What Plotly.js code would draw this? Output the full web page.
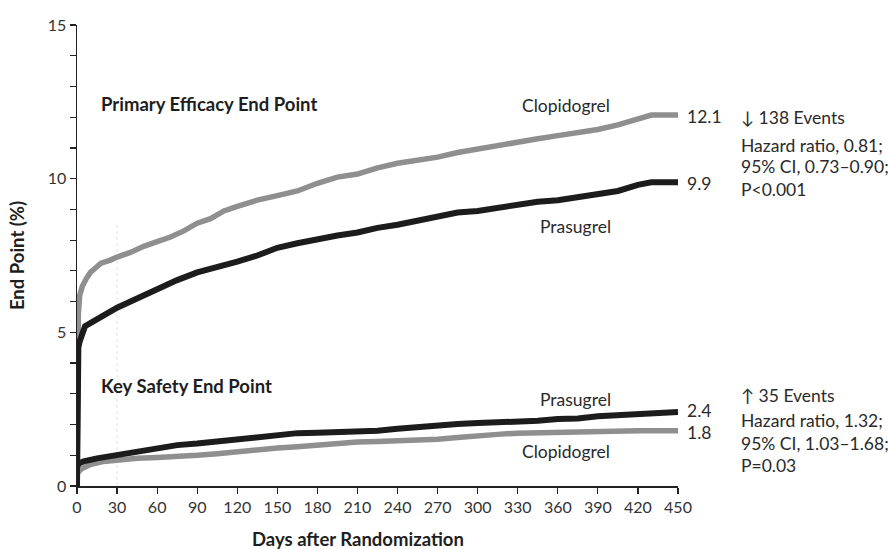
<!DOCTYPE html>
<html>
<head>
<meta charset="utf-8">
<script src="https://cdn.plot.ly/plotly-3.0.1.min.js"></script>
<style>html,body{margin:0;padding:0;background:#fff;}#chart{width:888px;height:549px;}</style>
</head>
<body>
<div id="chart"></div>
<script>
// Primary efficacy end point
const effClopDays = [0,0,1,2,4,7,10,14,18,25,30,40,50,60,70,80,90,100,110,120,135,150,165,180,195,210,225,240,255,270,285,300,315,330,345,360,375,390,405,420,430,450];
const effClopVals = [0,4.6,5.6,6.2,6.5,6.75,6.95,7.1,7.25,7.35,7.45,7.6,7.8,7.95,8.1,8.3,8.55,8.7,8.95,9.1,9.3,9.45,9.6,9.85,10.05,10.15,10.35,10.5,10.6,10.7,10.85,10.97,11.1,11.2,11.3,11.4,11.5,11.6,11.75,11.95,12.07,12.07];
const effPrasDays = [0,0,1,2,4,6,10,15,20,30,40,50,60,75,90,105,120,135,150,165,180,195,210,225,240,255,270,285,300,315,330,345,360,375,390,405,420,430,450];
const effPrasVals = [0,4.3,4.5,4.7,5.0,5.2,5.3,5.4,5.55,5.8,6.0,6.25,6.45,6.7,6.95,7.1,7.3,7.5,7.75,7.9,8.05,8.15,8.25,8.4,8.5,8.65,8.8,8.9,8.95,9.05,9.15,9.25,9.3,9.4,9.5,9.6,9.8,9.88,9.88];
// Key safety end point
const safPrasDays = [0,0,2,5,15,30,45,60,75,90,105,120,135,150,165,180,195,210,225,240,255,270,285,300,315,330,345,360,375,390,405,420,435,450];
const safPrasVals = [0,0.65,0.75,0.8,0.9,1.0,1.1,1.2,1.33,1.38,1.45,1.5,1.56,1.63,1.72,1.73,1.74,1.78,1.8,1.86,1.92,1.97,2.02,2.05,2.07,2.1,2.12,2.18,2.2,2.27,2.31,2.35,2.38,2.41];
const safClopDays = [0,0,3,10,20,30,45,60,75,90,105,120,135,150,165,180,195,210,225,240,255,270,285,300,315,330,345,360,375,390,420,450];
const safClopVals = [0,0.4,0.55,0.7,0.8,0.85,0.9,0.93,0.95,1.0,1.05,1.12,1.2,1.24,1.28,1.33,1.4,1.43,1.45,1.47,1.5,1.52,1.58,1.65,1.68,1.72,1.74,1.76,1.78,1.8,1.8,1.8];

const xTicks = [0,30,60,90,120,150,180,210,240,270,300,330,360,390,420,450];
const yTicks = [0,5,10,15];

const GRAY = '#8f8f8f';
const BLACK = '#1c1c1c';
const FONT = 'Lato, "Open Sans", sans-serif';
const TXT = 17.5;
const BOLD = 18.5;

function tr(x, y, color, w) {
  return {x: x, y: y, type: 'scatter', mode: 'lines', line: {color: color, width: w, shape: 'linear'}, hoverinfo: 'skip', showlegend: false};
}

const data = [
  tr(effClopDays, effClopVals, GRAY, 5.5),
  tr(effPrasDays, effPrasVals, BLACK, 6),
  tr(safClopDays, safClopVals, GRAY, 5.5),
  tr(safPrasDays, safPrasVals, BLACK, 6)
];

function ann(text, x, y, opts) {
  return Object.assign({text: text, x: x, y: y, xref: 'paper', yref: 'paper', showarrow: false,
    xanchor: 'left', yanchor: 'middle', font: {family: FONT, size: TXT, color: '#2a2a2a'}}, opts || {});
}
// helpers mapping pixels to paper coordinates
const L = 77, R = 678, T = 25, B = 486;
const px = x => (x - L) / (R - L);
const py = y => (B - y) / (B - T);

const annotations = [
  ann('Primary Efficacy End Point', px(99), py(104), {font: {family: FONT, size: BOLD, color: '#1e1e1e', weight: 'bold'}}),
  ann('Key Safety End Point', px(99), py(386), {font: {family: FONT, size: BOLD, color: '#1e1e1e', weight: 'bold'}}),
  ann('Days after Randomization', px(358), py(539), {xanchor: 'center', font: {family: FONT, size: BOLD, color: '#1e1e1e', weight: 'bold'}}),
  ann('Clopidogrel', px(566), py(105), {xanchor: 'center'}),
  ann('Prasugrel', px(575), py(226), {xanchor: 'center'}),
  ann('Prasugrel', px(575), py(399), {xanchor: 'center'}),
  ann('Clopidogrel', px(566), py(451), {xanchor: 'center'}),
  ann('12.1', px(685), py(116)),
  ann('9.9', px(685), py(183)),
  ann('2.4', px(685), py(410)),
  ann('1.8', px(685), py(432)),
  ann('↓ 138 Events', px(739), py(118)),
  ann('Hazard ratio, 0.81;', px(739), py(145)),
  ann('95% CI, 0.73–0.90;', px(739), py(167)),
  ann('P<0.001', px(739), py(189)),
  ann('↑ 35 Events', px(739), py(395)),
  ann('Hazard ratio, 1.32;', px(739), py(420)),
  ann('95% CI, 1.03–1.68;', px(739), py(443)),
  ann('P=0.03', px(739), py(465))
];

const layout = {
  width: 888, height: 549,
  margin: {l: L, r: 888 - R, t: T, b: 549 - B},
  paper_bgcolor: '#ffffff', plot_bgcolor: '#ffffff',
  font: {family: FONT, color: '#333'},
  xaxis: {
    range: [0, 450], tickvals: xTicks, ticktext: xTicks.map(String),
    showgrid: false, zeroline: false, showline: true, linecolor: '#222', linewidth: 1.5,
    ticks: 'outside', ticklen: 6, tickwidth: 1.2, tickcolor: '#222',
    tickfont: {family: FONT, size: 16, color: '#333'}
  },
  yaxis: {
    range: [0, 15], tickvals: yTicks, ticktext: yTicks.map(String),
    showgrid: false, zeroline: false, showline: true, linecolor: '#222', linewidth: 1.5,
    ticks: 'outside', ticklen: 6, tickwidth: 1.2, tickcolor: '#222',
    minor: {dtick: 1, ticks: 'outside', ticklen: 6, tickwidth: 1.2, tickcolor: '#222', showgrid: false},
    tickfont: {family: FONT, size: 16, color: '#333'},
    title: {text: 'End Point (%)', font: {family: FONT, size: BOLD, color: '#1e1e1e', weight: 'bold'}, standoff: 18}
  },
  shapes: [
    {type: 'line', xref: 'x', yref: 'y', x0: 30, x1: 30, y0: 0, y1: 8.6,
     line: {color: '#e2e2e2', width: 1, dash: 'dot'}, layer: 'below'}
  ],
  annotations: annotations,
  showlegend: false
};

Plotly.newPlot('chart', data, layout, {displayModeBar: false, staticPlot: true});
</script>
</body>
</html>
